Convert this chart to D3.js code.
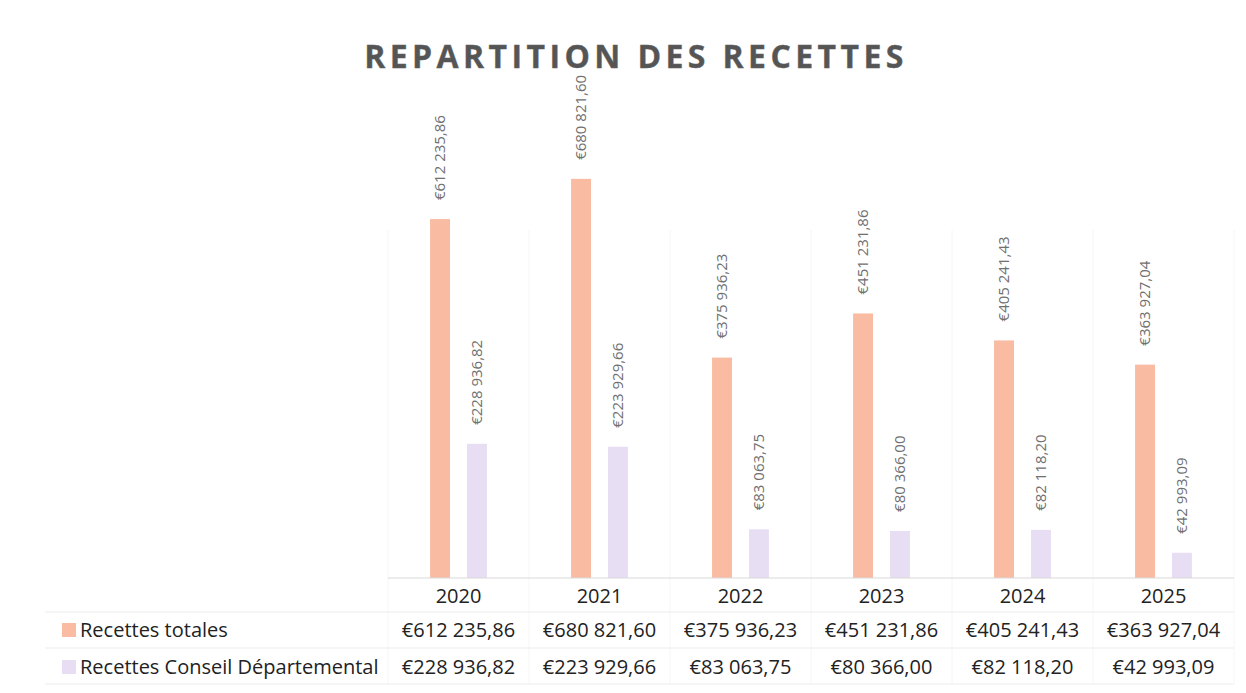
<!DOCTYPE html>
<html>
<head>
<meta charset="utf-8">
<script src="https://cdn.jsdelivr.net/npm/d3@7"></script>
<style>
  body { margin: 0; background: #fff; }
  text { font-family: "Open Sans", "Noto Sans", sans-serif; }
</style>
</head>
<body>
<script>
// canvas size
var w = 1246;
var h = 693;

// data
var years = ["2020", "2021", "2022", "2023", "2024", "2025"];
var seriesNames = ["Recettes totales", "Recettes Conseil Départemental"];
var recettesTotales = [612235.86, 680821.60, 375936.23, 451231.86, 405241.43, 363927.04];
var recettesConseil = [228936.82, 223929.66, 83063.75, 80366.00, 82118.20, 42993.09];
var seriesColors = ["#f9bba1", "#e8def4"];

var series = [recettesTotales, recettesConseil];

// euro format, french style: €612 235,86
function euro(v) {
    var parts = v.toFixed(2).split(".");
    var ent = parts[0].replace(/\B(?=(\d{3})+(?!\d))/g, " ");
    return "€" + ent + "," + parts[1];
}

var svg = d3.select("body")
    .append("svg")
    .attr("width", w)
    .attr("height", h);

// plot area
var plotLeft = 388, plotRight = 1234;
var baseY = 578, topY = 109;
var tableLeft = 45;
var rowLines = [612, 648, 684];

var x = d3.scaleBand()
    .domain(years)
    .range([plotLeft, plotRight]);

var xs = d3.scaleBand()
    .domain(seriesNames)
    .range([0, x.bandwidth()])
    .paddingInner(0.46)
    .paddingOuter(1.14);

var y = d3.scaleLinear()
    .domain([0, 800000])
    .range([baseY, topY]);

// title
svg.append("text")
    .attr("x", 636)
    .attr("y", 68)
    .attr("text-anchor", "middle")
    .attr("font-size", 32)
    .attr("font-weight", "bold")
    .attr("letter-spacing", 4.4)
    .attr("fill", "#555")
    .attr("stroke", "#666")
    .attr("stroke-width", 0.4)
    .text("REPARTITION DES RECETTES");

// faint vertical separators
var seps = years.map(function(d) { return x(d); }).concat([plotRight]);
svg.selectAll("line.sep")
    .data(seps)
    .enter()
    .append("line")
    .attr("class", "sep")
    .attr("x1", function(d) { return d; })
    .attr("x2", function(d) { return d; })
    .attr("y1", 230)
    .attr("y2", rowLines[2])
    .attr("stroke", "#f6f6f6")
    .attr("stroke-width", 1);

// bars
years.forEach(function(yr, i) {
    var g = svg.append("g").attr("transform", "translate(" + x(yr) + ",0)");
    seriesNames.forEach(function(name, s) {
        var v = series[s][i];
        g.append("rect")
            .attr("x", xs(name))
            .attr("y", y(v))
            .attr("width", xs.bandwidth())
            .attr("height", baseY - y(v))
            .attr("fill", seriesColors[s]);

        var cx = xs(name) + xs.bandwidth() / 2;
        var ty = y(v) - 19;
        g.append("text")
            .attr("transform", "translate(" + cx + "," + ty + ") rotate(-90)")
            .attr("dy", "0.35em")
            .attr("font-size", 15)
            .attr("fill", "#707070")
            .text(euro(v));
    });
});

// axis line and table lines
svg.append("line")
    .attr("x1", plotLeft).attr("x2", plotRight)
    .attr("y1", baseY).attr("y2", baseY)
    .attr("stroke", "#d9d9d9");

svg.selectAll("line.row")
    .data(rowLines)
    .enter()
    .append("line")
    .attr("class", "row")
    .attr("x1", tableLeft).attr("x2", plotRight)
    .attr("y1", function(d) { return d; })
    .attr("y2", function(d) { return d; })
    .attr("stroke", "#ececec");

// year labels
svg.selectAll("text.year")
    .data(years)
    .enter()
    .append("text")
    .attr("class", "year")
    .attr("x", function(d) { return x(d) + x.bandwidth() / 2; })
    .attr("y", 596)
    .attr("dy", "0.35em")
    .attr("text-anchor", "middle")
    .attr("font-size", 20)
    .attr("fill", "#222")
    .text(function(d) { return d; });

// table rows
var rowMid = [630, 667];
seriesNames.forEach(function(name, s) {
    svg.append("rect")
        .attr("x", 62)
        .attr("y", rowMid[s] - 7)
        .attr("width", 14)
        .attr("height", 14)
        .attr("fill", seriesColors[s]);

    svg.append("text")
        .attr("x", 80)
        .attr("y", rowMid[s])
        .attr("dy", "0.35em")
        .attr("font-size", 20)
        .attr("fill", "#222")
        .text(name);

    svg.selectAll("text.val" + s)
        .data(series[s])
        .enter()
        .append("text")
        .attr("class", "val" + s)
        .attr("x", function(d, i) { return x(years[i]) + x.bandwidth() / 2; })
        .attr("y", rowMid[s])
        .attr("dy", "0.35em")
        .attr("text-anchor", "middle")
        .attr("font-size", 20)
        .attr("fill", "#222")
        .text(function(d) { return euro(d); });
});
</script>
</body>
</html>
